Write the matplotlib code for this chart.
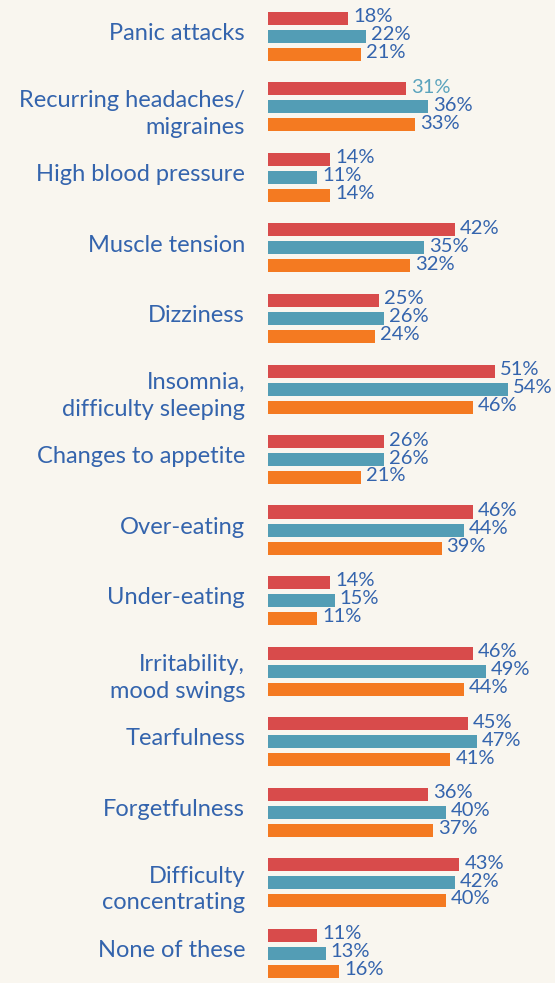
import matplotlib
matplotlib.use("Agg")
import matplotlib.pyplot as plt

# Survey data: % reporting each symptom, three series per category
categories = [
    "Panic attacks",
    "Recurring headaches/\nmigraines",
    "High blood pressure",
    "Muscle tension",
    "Dizziness",
    "Insomnia,\ndifficulty sleeping",
    "Changes to appetite",
    "Over-eating",
    "Under-eating",
    "Irritability,\nmood swings",
    "Tearfulness",
    "Forgetfulness",
    "Difficulty\nconcentrating",
    "None of these",
]
series_red = [18, 31, 14, 42, 25, 51, 26, 46, 14, 46, 45, 36, 43, 11]
series_teal = [22, 36, 11, 35, 26, 54, 26, 44, 15, 49, 47, 40, 42, 13]
series_orange = [21, 33, 14, 32, 24, 46, 21, 39, 11, 44, 41, 37, 40, 16]

bg = "#f9f6ef"
text_blue = "#3464ad"
colors = ["#d84b4b", "#539db5", "#f47a21"]

plt.rcParams["font.family"] = ["Lato", "DejaVu Sans"]

W, H = 555, 983
fig = plt.figure(figsize=(W / 100, H / 100), dpi=100, facecolor=bg)
x0 = 268
ax = fig.add_axes([x0 / W, 0, (W - x0) / W, 1])
ax.set_facecolor(bg)

pitch = 70.5  # px between groups
first = 36.5  # px from top to first group's middle bar
off = 18 / pitch
bh = 13 / pitch
ax.set_ylim((H - first) / pitch, -first / pitch)
ax.set_xlim(0, (W - x0) / 4.45)
ax.axis("off")

px = 72 / 100
for k, vals in enumerate([series_red, series_teal, series_orange]):
    for i, v in enumerate(vals):
        y = i + (k - 1) * off
        ax.barh(y, v, height=bh, color=colors[k])
        c = text_blue
        if k == 0 and i == 1:
            c = "#5aa3bd"
        ax.annotate(f"{v}%", (v, y), xytext=(5 * px, 1.5 * px), textcoords="offset points",
                    va="center", ha="left", fontsize=14.5, color=c)

for i, cat in enumerate(categories):
    dy = 7 if "\n" in cat else -3
    ax.annotate(cat, (0, i), xytext=(-23 * px, -dy * px),
                textcoords="offset points", ha="right", va="center",
                fontsize=17, color=text_blue, linespacing=1.35,
                annotation_clip=False)

fig.savefig("out.png", dpi=100, facecolor=bg)
